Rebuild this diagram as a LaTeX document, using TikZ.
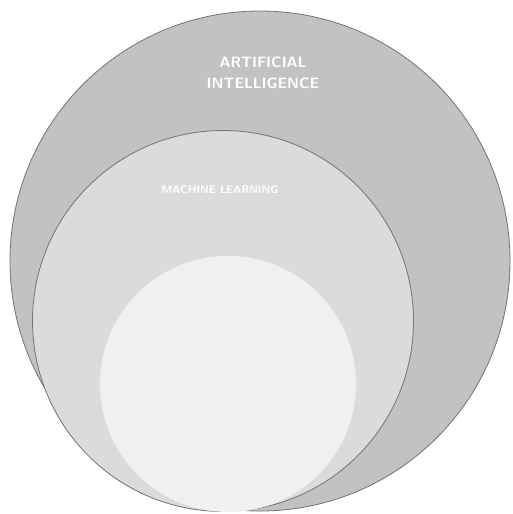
\documentclass[tikz,border=0pt]{standalone}
\usepackage{tikz}
\usetikzlibrary{positioning}

\begin{document}
\begin{tikzpicture}[
    x=1pt, y=-1pt,
    ring/.style={circle, inner sep=0pt, draw=black!55, line width=0.8pt},
    ringlabel/.style={font=\sffamily\bfseries, text=white, align=center}
  ]
    \useasboundingbox (0,0) rectangle (513,514);

    % Nested rings
    \node[ring, fill=black!24, minimum size=500pt] (outer) at (260,261) {};
    \node[ring, fill=black!14, minimum size=381pt] (middle) at (223,321) {};
    \node[ring, fill=black!6, draw=none, minimum size=256pt] (inner) at (228,384) {};

    % Labels
    \node[ringlabel, font=\sffamily\bfseries\fontsize{15}{21}\selectfont] (outerlabel)
      at (263,73) {ARTIFICIAL\\INTELLIGENCE};
    \node[ringlabel, font=\sffamily\bfseries\fontsize{11}{13}\selectfont] (middlelabel)
      at (220,190) {MACHINE LEARNING};
  \end{tikzpicture}
\end{document}
